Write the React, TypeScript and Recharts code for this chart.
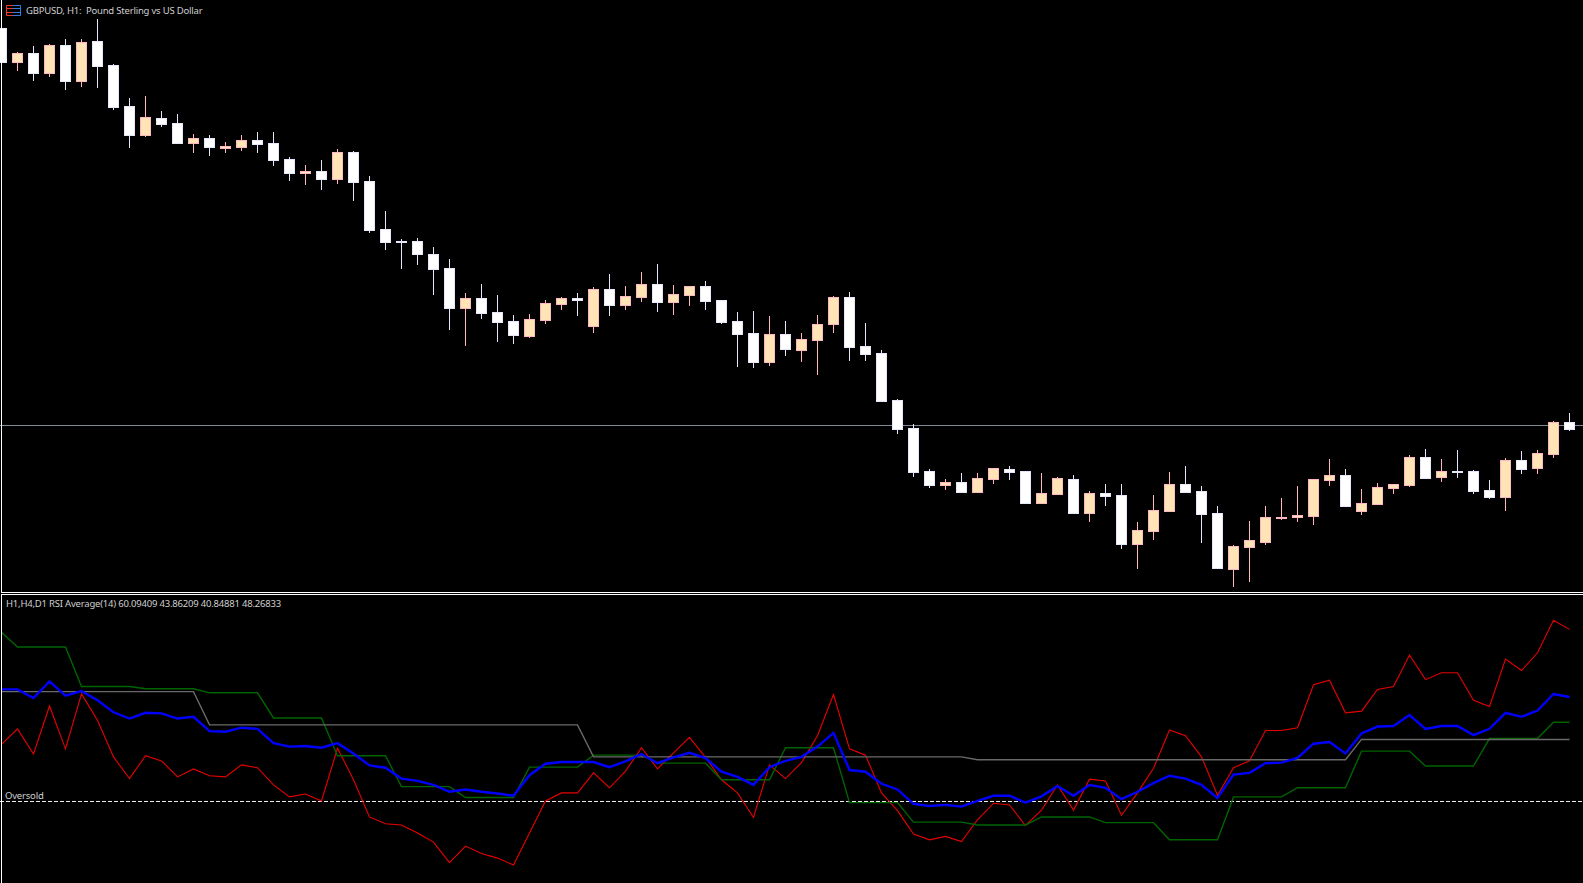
import React from 'react';
import { ComposedChart, Bar, Line, XAxis, YAxis, ReferenceLine } from 'recharts';

// candle values are points above the floor of the price pane (the chart shows no price axis)
const opens = [564,529,539,518,547,510,551,527,486,456,474,469,448,454,443,444,452,449,433,418,421,412,440,411,363,351,351,338,324,283,294,280,271,255,271,287,294,265,303,286,294,308,289,296,306,292,271,259,229,258,241,251,267,295,246,239,192,164,121,106,110,99,112,123,121,88,97,113,78,99,97,47,60,80,108,101,79,22,44,49,73,74,75,111,117,80,87,103,106,135,114,121,121,102,94,132,123,137,170];
const highs = [564,540,546,548,553,553,573,528,494,496,481,478,458,457,450,457,460,460,435,427,432,443,441,416,381,353,354,345,333,299,308,297,277,278,292,295,299,305,318,306,320,328,307,306,311,292,280,281,276,271,259,277,296,300,269,242,193,168,123,113,119,119,124,126,121,119,115,117,101,108,108,70,97,120,126,106,86,47,71,86,94,106,113,133,123,103,109,108,137,143,133,142,122,112,134,141,142,171,179];
const lows = [529,521,511,515,502,505,504,482,444,455,465,448,439,436,439,441,439,426,411,407,402,408,391,359,342,323,327,297,262,246,273,250,248,254,268,282,276,259,276,282,290,280,277,286,282,268,225,224,226,236,230,217,259,231,231,190,158,115,104,102,99,99,108,112,88,88,97,78,70,86,43,23,52,80,99,49,23,5,10,47,72,70,67,106,85,77,87,98,105,113,110,114,98,93,81,118,118,134,161];
const closes = [529,539,518,547,510,550,525,484,456,475,467,448,454,444,446,452,447,431,418,421,412,440,409,361,349,349,337,322,283,294,278,269,256,273,289,294,291,303,286,296,308,289,298,306,290,269,257,229,258,242,253,268,295,244,237,190,162,119,106,110,99,114,124,119,88,99,114,78,99,95,47,62,82,108,99,77,23,46,52,75,75,77,113,117,85,89,105,108,135,113,121,119,100,94,132,122,139,170,162];

const rsiH1 = [40.0,42.7,38.3,46.7,39.2,48.8,44.2,37.8,34.0,38.0,37.1,34.3,35.7,34.5,34.3,36.4,35.9,32.9,30.8,31.3,30.1,39.3,33.8,27.3,26.1,25.9,24.5,22.9,19.3,22.2,20.9,20.1,18.9,24.5,30.1,31.5,31.5,35.0,32.4,35.3,39.4,35.7,38.5,41.2,37.7,33.8,31.5,27.2,36.4,34.0,36.8,41.5,48.7,39.2,38.1,31.5,28.4,24.3,23.3,23.9,23.0,26.8,29.7,29.4,25.8,28.5,32.9,28.5,33.9,33.6,27.6,31.5,35.8,42.5,41.5,37.8,31.1,35.9,37.1,42.4,42.4,42.9,50.4,51.2,45.5,45.8,49.6,50.1,55.6,51.3,52.5,52.5,47.7,46.6,54.9,52.9,56.0,61.7,60.09];
const rsiH4 = [59.6,57.0,57.0,57.0,57.0,50.1,50.1,50.1,50.1,49.7,49.7,49.7,49.7,49.0,49.0,49.0,49.0,44.6,44.6,44.6,44.6,38.0,38.0,38.0,38.0,32.6,32.6,32.6,32.6,30.7,30.7,30.7,30.7,36.0,36.0,36.0,36.0,38.1,38.1,38.1,38.1,36.7,36.7,36.7,36.7,33.8,33.8,33.8,33.8,39.4,39.4,39.4,39.4,29.8,29.8,29.8,29.8,26.4,26.4,26.4,26.4,25.9,25.9,25.9,25.9,27.3,27.3,27.3,27.3,26.3,26.3,26.3,26.3,23.3,23.3,23.3,23.3,30.8,30.8,30.8,30.8,32.4,32.4,32.4,32.4,38.8,38.8,38.8,38.8,36.2,36.2,36.2,36.2,41.0,41.0,41.0,41.0,43.86,43.86];
const rsiD1 = [49.2,49.2,49.2,49.2,49.2,49.2,49.2,49.2,49.2,49.2,49.2,49.2,49.2,43.4,43.4,43.4,43.4,43.4,43.4,43.4,43.4,43.4,43.4,43.4,43.4,43.4,43.4,43.4,43.4,43.4,43.4,43.4,43.4,43.4,43.4,43.4,43.4,37.8,37.8,37.8,37.8,37.8,37.8,37.8,37.8,37.8,37.8,37.8,37.8,37.8,37.8,37.8,37.8,37.8,37.8,37.8,37.8,37.8,37.8,37.8,37.8,37.3,37.3,37.3,37.3,37.3,37.3,37.3,37.3,37.3,37.3,37.3,37.3,37.3,37.3,37.3,37.3,37.3,37.3,37.3,37.3,37.3,37.3,37.3,37.3,40.85,40.85,40.85,40.85,40.85,40.85,40.85,40.85,40.85,40.85,40.85,40.85,40.85,40.85];
const rsiAvg = [49.6,49.6,48.1,51.0,48.5,49.3,47.7,45.6,44.5,45.5,45.4,44.5,44.8,42.3,42.2,42.9,42.7,40.2,39.6,39.7,39.4,40.2,38.4,36.3,35.9,34.0,33.6,32.9,31.7,32.1,31.7,31.4,31.0,34.6,36.6,36.9,36.9,36.9,36.0,37.0,38.3,36.7,37.7,38.5,37.6,35.2,34.3,32.9,36.0,37.1,37.8,39.6,42.0,35.5,35.2,33.1,32.1,29.6,29.2,29.4,29.1,30.1,31.0,31.0,29.8,30.9,32.7,31.0,32.9,32.4,30.4,31.7,33.2,34.5,34.0,32.9,30.6,34.7,35.0,36.7,36.8,37.6,40.1,40.4,38.4,41.9,43.1,43.2,45.1,42.7,43.2,43.2,41.6,42.7,45.5,44.8,45.9,48.8,48.27];

const currentPrice = 166.5;
const oversoldLevel = 30;

const candleData = opens.map((open, i) => ({ i, open, high: highs[i], low: lows[i], close: closes[i] }));
const rsiData = rsiH1.map((h1, i) => ({ i, h1, h4: rsiH4[i], d1: rsiD1[i], avg: rsiAvg[i] }));

const WIDTH = 1583;
const X_DOMAIN = [-0.09375, 98.84375];
const LABEL: React.CSSProperties = {
  position: 'absolute',
  font: '9.5px "Noto Sans", sans-serif',
  letterSpacing: -0.2,
  color: '#cfcfcf',
  whiteSpace: 'pre',
  lineHeight: '12px',
};

const Candle = (props: any) => {
  const { x, y, width, height, payload } = props;
  const k = height / (payload.high - payload.low);
  const up = payload.close > payload.open;
  const stroke = up ? '#ffb6c1' : '#e6e6fa';
  const fill = up ? '#ffe4b5' : '#ffffff';
  const cx = Math.floor(x + width / 2) + 0.5;
  const top = Math.round(y + (payload.high - Math.max(payload.open, payload.close)) * k) + 0.5;
  const bottom = Math.round(y + (payload.high - Math.min(payload.open, payload.close)) * k) - 0.5;
  return (
    <g>
      <line x1={cx} x2={cx} y1={y} y2={y + height} stroke={stroke} />
      <rect x={cx - 5} y={top} width={10} height={Math.max(bottom - top, 1)} fill={fill} stroke={stroke} />
    </g>
  );
};

const Icon = () => (
  <svg width={16} height={12} style={{ position: 'absolute', left: 6, top: 5 }}>
    <path d="M7 .5H.5v10H7M1 3.5h6M1 7.5h6" fill="none" stroke="#ee3a30" />
    <path d="M7 .5h7.5v10H7M7 3.5h7M7 7.5h7" fill="none" stroke="#2f7fe8" />
  </svg>
);

export default function App() {
  return (
    <div style={{ position: 'fixed', left: 0, top: 0, width: WIDTH, height: 883, background: '#000', overflow: 'hidden' }}>
      {/* price line sits in its own chart so the candles cover it; the hidden series keeps the axes alive */}
      <div style={{ position: 'absolute', left: 0, top: 0 }}>
        <ComposedChart width={WIDTH} height={592} data={candleData} margin={{ top: 0, right: 0, bottom: 0, left: 0 }}>
          <XAxis dataKey="i" type="number" domain={X_DOMAIN} allowDataOverflow hide />
          <YAxis type="number" domain={[0, 592]} hide />
          <Line dataKey="close" stroke="none" dot={false} isAnimationActive={false} />
          <ReferenceLine y={currentPrice} stroke="#7f8a99" />
        </ComposedChart>
      </div>
      <div style={{ position: 'absolute', left: 0, top: 0 }}>
        <ComposedChart width={WIDTH} height={592} data={candleData} margin={{ top: 0, right: 0, bottom: 0, left: 0 }}>
          <XAxis dataKey="i" type="number" domain={X_DOMAIN} allowDataOverflow hide />
          <YAxis type="number" domain={[0, 592]} hide />
          <Bar dataKey={(d: any) => [d.low, d.high]} barSize={11} shape={<Candle />} isAnimationActive={false} />
        </ComposedChart>
      </div>
      <div style={{ position: 'absolute', left: 0, top: 595 }}>
        <ComposedChart width={WIDTH} height={288} data={rsiData} margin={{ top: 0, right: 0, bottom: 0, left: 0 }}>
          <XAxis dataKey="i" type="number" domain={X_DOMAIN} allowDataOverflow hide />
          <YAxis type="number" domain={[15.75, 66.1]} hide />
          <ReferenceLine y={oversoldLevel} stroke="#f0f0f0" strokeDasharray="4 2" />
          <Line dataKey="h1" stroke="#e80000" strokeWidth={1.1} dot={false} isAnimationActive={false} />
          <Line dataKey="h4" stroke="#006400" strokeWidth={1.4} dot={false} isAnimationActive={false} />
          <Line dataKey="d1" stroke="#696969" strokeWidth={1.4} dot={false} isAnimationActive={false} />
          <Line dataKey="avg" stroke="#0000ff" strokeWidth={2.4} dot={false} isAnimationActive={false} />
        </ComposedChart>
      </div>

      {/* window frame of the two panes */}
      <div style={{ position: 'absolute', left: 1, top: 0, width: 1, height: 883, background: '#fff' }} />
      <div style={{ position: 'absolute', left: 1, top: 592, width: WIDTH, height: 1, background: '#fff' }} />
      <div style={{ position: 'absolute', left: 1, top: 593, width: WIDTH, height: 1, background: '#000' }} />
      <div style={{ position: 'absolute', left: 1, top: 594, width: WIDTH, height: 1, background: '#fff' }} />

      <Icon />
      <div style={{ ...LABEL, left: 26, top: 5 }}>GBPUSD, H1:  Pound Sterling vs US Dollar</div>
      <div style={{ ...LABEL, left: 6, top: 598 }}>H1,H4,D1 RSI Average(14) 60.09409 43.86209 40.84881 48.26833</div>
      <div style={{ ...LABEL, left: 5, top: 790 }}>Oversold</div>
    </div>
  );
}
